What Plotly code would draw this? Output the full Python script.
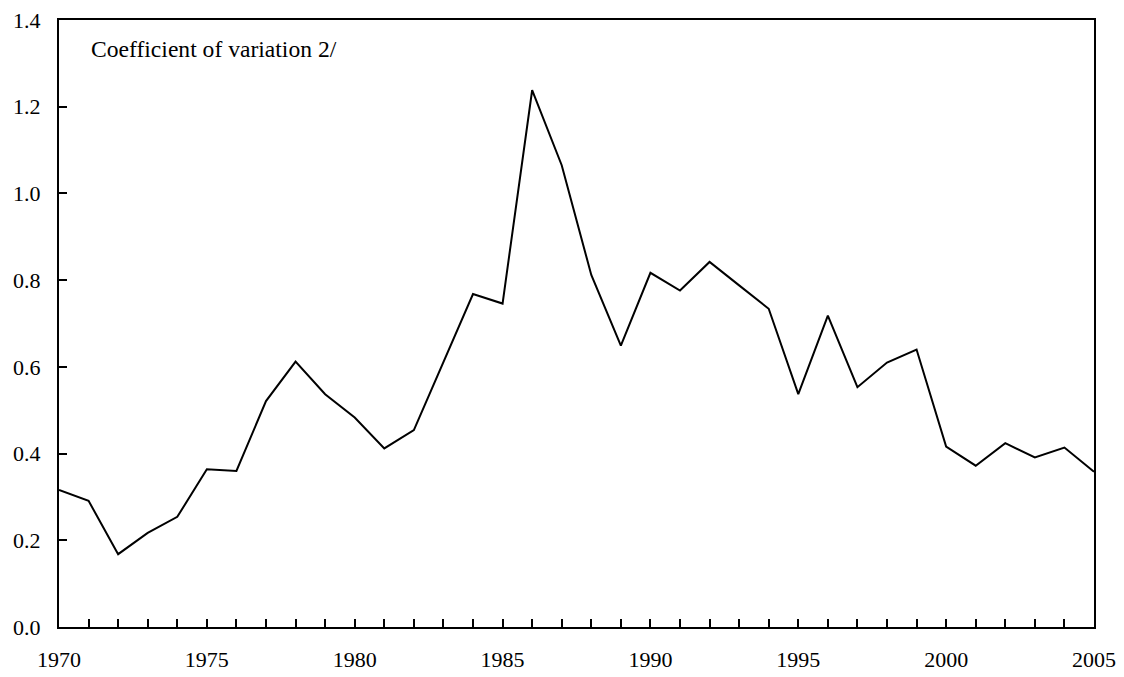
import plotly.graph_objects as go

years = list(range(1970, 2006))
cv = [0.316, 0.291, 0.168, 0.217, 0.254, 0.364, 0.360, 0.521, 0.612, 0.537,
      0.483, 0.412, 0.454, 0.611, 0.768, 0.746, 1.238, 1.065, 0.812, 0.649,
      0.817, 0.776, 0.842, 0.788, 0.734, 0.537, 0.718, 0.553, 0.610, 0.640,
      0.416, 0.372, 0.424, 0.391, 0.414, 0.358]

x_tickvals = years
x_ticktext = [str(y) if y % 5 == 0 else "" for y in years]
y_tickvals = [0.0, 0.2, 0.4, 0.6, 0.8, 1.0, 1.2, 1.4]
y_ticktext = ["0.0", "0.2", "0.4", "0.6", "0.8", "1.0", "1.2", "1.4"]
label = "Coefficient of variation 2/"

font = "Liberation Serif"
tickfont = dict(family=font, size=22, color="black")

fig = go.Figure()
fig.add_trace(go.Scatter(x=years, y=cv, mode="lines",
                         line=dict(color="black", width=2), showlegend=False))

# page body has an 8px default margin, so the figure is sized to fit
fig.update_layout(
    width=1116, height=669,
    margin=dict(l=51, r=30, t=12, b=50, autoexpand=False),
    paper_bgcolor="white", plot_bgcolor="white",
    font=dict(family=font, size=22, color="black"),
    xaxis=dict(range=[1970, 2005], tickvals=x_tickvals, ticktext=x_ticktext,
               ticks="inside", ticklen=8, tickwidth=1.5, tickcolor="black",
               tickfont=tickfont, automargin=False, ticklabeloverflow="allow",
               showline=True, linecolor="black", linewidth=2, mirror=True,
               showgrid=False, zeroline=False, ticklabelstandoff=12),
    yaxis=dict(range=[0, 1.4], tickvals=y_tickvals, ticktext=y_ticktext,
               ticks="inside", ticklen=8, tickwidth=1.5, tickcolor="black",
               tickfont=tickfont, automargin=False, ticklabeloverflow="allow",
               showline=True, linecolor="black", linewidth=2, mirror=True,
               showgrid=False, zeroline=False, ticklabelstandoff=12),
    annotations=[dict(text=label, xref="paper", yref="paper", x=0.029, y=0.952,
                      xanchor="left", yanchor="middle", showarrow=False,
                      font=dict(family=font, size=23.6, color="black"))],
)

fig.write_html("out.html")
